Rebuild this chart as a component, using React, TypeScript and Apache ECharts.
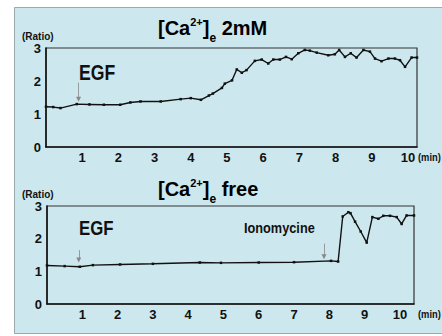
import React, { useEffect, useRef } from "react";
import * as echarts from "echarts";

// 2mM extracellular Ca2+
const timeA = [0, 0.2, 0.4, 0.85, 1.2, 1.6, 2.05, 2.33, 2.61, 3.17, 3.72, 4.0, 4.28, 4.5, 4.61, 4.86, 4.94, 5.14, 5.27, 5.41, 5.54, 5.77, 5.96, 6.14, 6.28, 6.46, 6.63, 6.79, 6.97, 7.15, 7.29, 7.48, 7.8, 7.98, 8.1, 8.26, 8.42, 8.58, 8.77, 8.95, 9.09, 9.27, 9.46, 9.64, 9.78, 9.92, 10.1, 10.25];
const ratioA = [1.22, 1.21, 1.18, 1.3, 1.29, 1.28, 1.28, 1.35, 1.38, 1.38, 1.45, 1.48, 1.43, 1.56, 1.62, 1.79, 1.92, 2.02, 2.35, 2.25, 2.33, 2.61, 2.65, 2.53, 2.65, 2.65, 2.73, 2.66, 2.84, 2.94, 2.92, 2.86, 2.78, 2.81, 2.94, 2.73, 2.84, 2.71, 2.94, 2.89, 2.68, 2.6, 2.68, 2.68, 2.63, 2.43, 2.71, 2.71];

// Ca2+ free
const timeB = [0, 0.5, 0.93, 1.3, 2.07, 3, 4.33, 4.93, 6, 7, 8.05, 8.25, 8.38, 8.54, 8.6, 8.73, 8.89, 9.06, 9.22, 9.39, 9.53, 9.72, 9.91, 10.05, 10.19, 10.4];
const ratioB = [1.18, 1.16, 1.14, 1.19, 1.21, 1.23, 1.27, 1.26, 1.27, 1.28, 1.32, 1.3, 2.68, 2.81, 2.78, 2.52, 2.22, 1.88, 2.66, 2.61, 2.7, 2.7, 2.66, 2.45, 2.71, 2.71];

const xTickLabels = ["1", "2", "3", "4", "5", "6", "7", "8", "9", "10"];
const yTickLabels = ["0", "1", "2", "3"];

const egfTime = 0.9;
const ionoTime = 7.85;

const FONT = '"Liberation Sans", Arial, sans-serif';

export default function App() {
  const ref = useRef<HTMLDivElement>(null);
  useEffect(() => {
    if (!ref.current) return;
    const chart = echarts.init(ref.current, undefined, { renderer: "svg" });
    const xLabel = {
      margin: 4,
      color: "#111",
      fontFamily: FONT,
      fontWeight: "bold" as const,
      fontSize: 13,
      formatter: (v: number) => (xTickLabels.includes(String(v)) ? String(v) : ""),
    };
    const yLabel = {
      margin: 5,
      color: "#111",
      fontFamily: FONT,
      fontWeight: "bold" as const,
      fontSize: 13,
      formatter: (v: number) => (yTickLabels.includes(String(v)) ? String(v) : ""),
    };
    const axisCommon = {
      type: "value" as const,
      axisLine: { show: true, lineStyle: { color: "#111", width: 1.5 } },
      axisTick: { show: false },
      splitLine: { show: false },
    };
    const mkData = (xs: number[], ys: number[]) => xs.map((x, i) => [x, ys[i]]);
    const arrowStyle = {
      silent: true,
      symbol: ["none", "triangle"],
      symbolSize: [5, 5],
      label: { show: false },
      lineStyle: { color: "#888", width: 0.8, type: "solid" as const },
      itemStyle: { color: "#111" },
    };
    const titleRich = {
      m: { fontFamily: FONT, fontWeight: "bold" as const, fontSize: 20, color: "#111", lineHeight: 24, verticalAlign: "middle" as const },
      sup: { fontFamily: FONT, fontWeight: "bold" as const, fontSize: 11, color: "#111", lineHeight: 11, verticalAlign: "top" as const },
      sub: { fontFamily: FONT, fontWeight: "bold" as const, fontSize: 12, color: "#111", lineHeight: 12, verticalAlign: "bottom" as const, padding: [0, 0, -4, 0] },
    };
    const txt = (x: number, y: number, text: string, size: number, sx = 1) => ({
      type: "text",
      x,
      y,
      scaleX: sx,
      style: { text, fontFamily: FONT, fontWeight: "bold", fontSize: size, fill: "#111", textVerticalAlign: "middle" },
    });
    chart.setOption({
      animation: false,
      backgroundColor: "#ffffff",
      grid: [
        { left: 46, top: 48, width: 371, height: 99, show: true, borderColor: "#333", borderWidth: 1.2, backgroundColor: "transparent" },
        { left: 47, top: 206, width: 367, height: 98, show: true, borderColor: "#333", borderWidth: 1.2, backgroundColor: "transparent" },
      ],
      xAxis: [
        { ...axisCommon, gridIndex: 0, min: 0, max: 10.25, interval: 1, axisLabel: xLabel },
        { ...axisCommon, gridIndex: 1, min: 0, max: 10.4, interval: 1, axisLabel: xLabel },
      ],
      yAxis: [
        { ...axisCommon, gridIndex: 0, min: 0, max: 3, interval: 1, axisLabel: yLabel },
        { ...axisCommon, gridIndex: 1, min: 0, max: 3, interval: 1, axisLabel: yLabel },
      ],
      graphic: [
        {
          type: "rect",
          z: -10,
          shape: { x: 14.5, y: 7.5, width: 440, height: 326 },
          style: { fill: "#cce8ee", stroke: "#9aa9ad", lineWidth: 1 },
        },
        {
          type: "text",
          x: 158,
          y: 28,
          style: { text: "{m|[Ca}{sup|2+}{m|]}{sub|e}{m| 2mM}", rich: titleRich, textVerticalAlign: "middle" },
        },
        {
          type: "text",
          x: 158,
          y: 189,
          style: { text: "{m|[Ca}{sup|2+}{m|]}{sub|e}{m| free}", rich: titleRich, textVerticalAlign: "middle" },
        },
        txt(22, 36, "(Ratio)", 10),
        txt(22, 194, "(Ratio)", 10),
        txt(418, 157, "(min)", 11, 0.85),
        txt(418, 314, "(min)", 11, 0.85),
        txt(79, 72, "EGF", 22, 0.8),
        txt(79, 228, "EGF", 21, 0.8),
        txt(244, 228, "Ionomycine", 14, 0.91),
      ],
      series: [
        {
          type: "line",
          xAxisIndex: 0,
          yAxisIndex: 0,
          data: mkData(timeA, ratioA),
          symbol: "rect",
          symbolSize: 2.5,
          showSymbol: true,
          itemStyle: { color: "#111" },
          lineStyle: { color: "#111", width: 1.4 },
          markLine: {
            ...arrowStyle,
            data: [[{ coord: [egfTime, 1.95] }, { coord: [egfTime, 1.45] }]],
          },
        },
        {
          type: "line",
          xAxisIndex: 1,
          yAxisIndex: 1,
          data: mkData(timeB, ratioB),
          symbol: "rect",
          symbolSize: 2.5,
          showSymbol: true,
          itemStyle: { color: "#111" },
          lineStyle: { color: "#111", width: 1.4 },
          markLine: {
            ...arrowStyle,
            data: [
              [{ coord: [egfTime, 1.65] }, { coord: [egfTime, 1.35] }],
              [{ coord: [ionoTime, 1.85] }, { coord: [ionoTime, 1.45] }],
            ],
          },
        },
      ],
    });
    return () => chart.dispose();
  }, []);
  return <div ref={ref} style={{ position: "fixed", left: 0, top: 0, width: 442, height: 336 }} />;
}
